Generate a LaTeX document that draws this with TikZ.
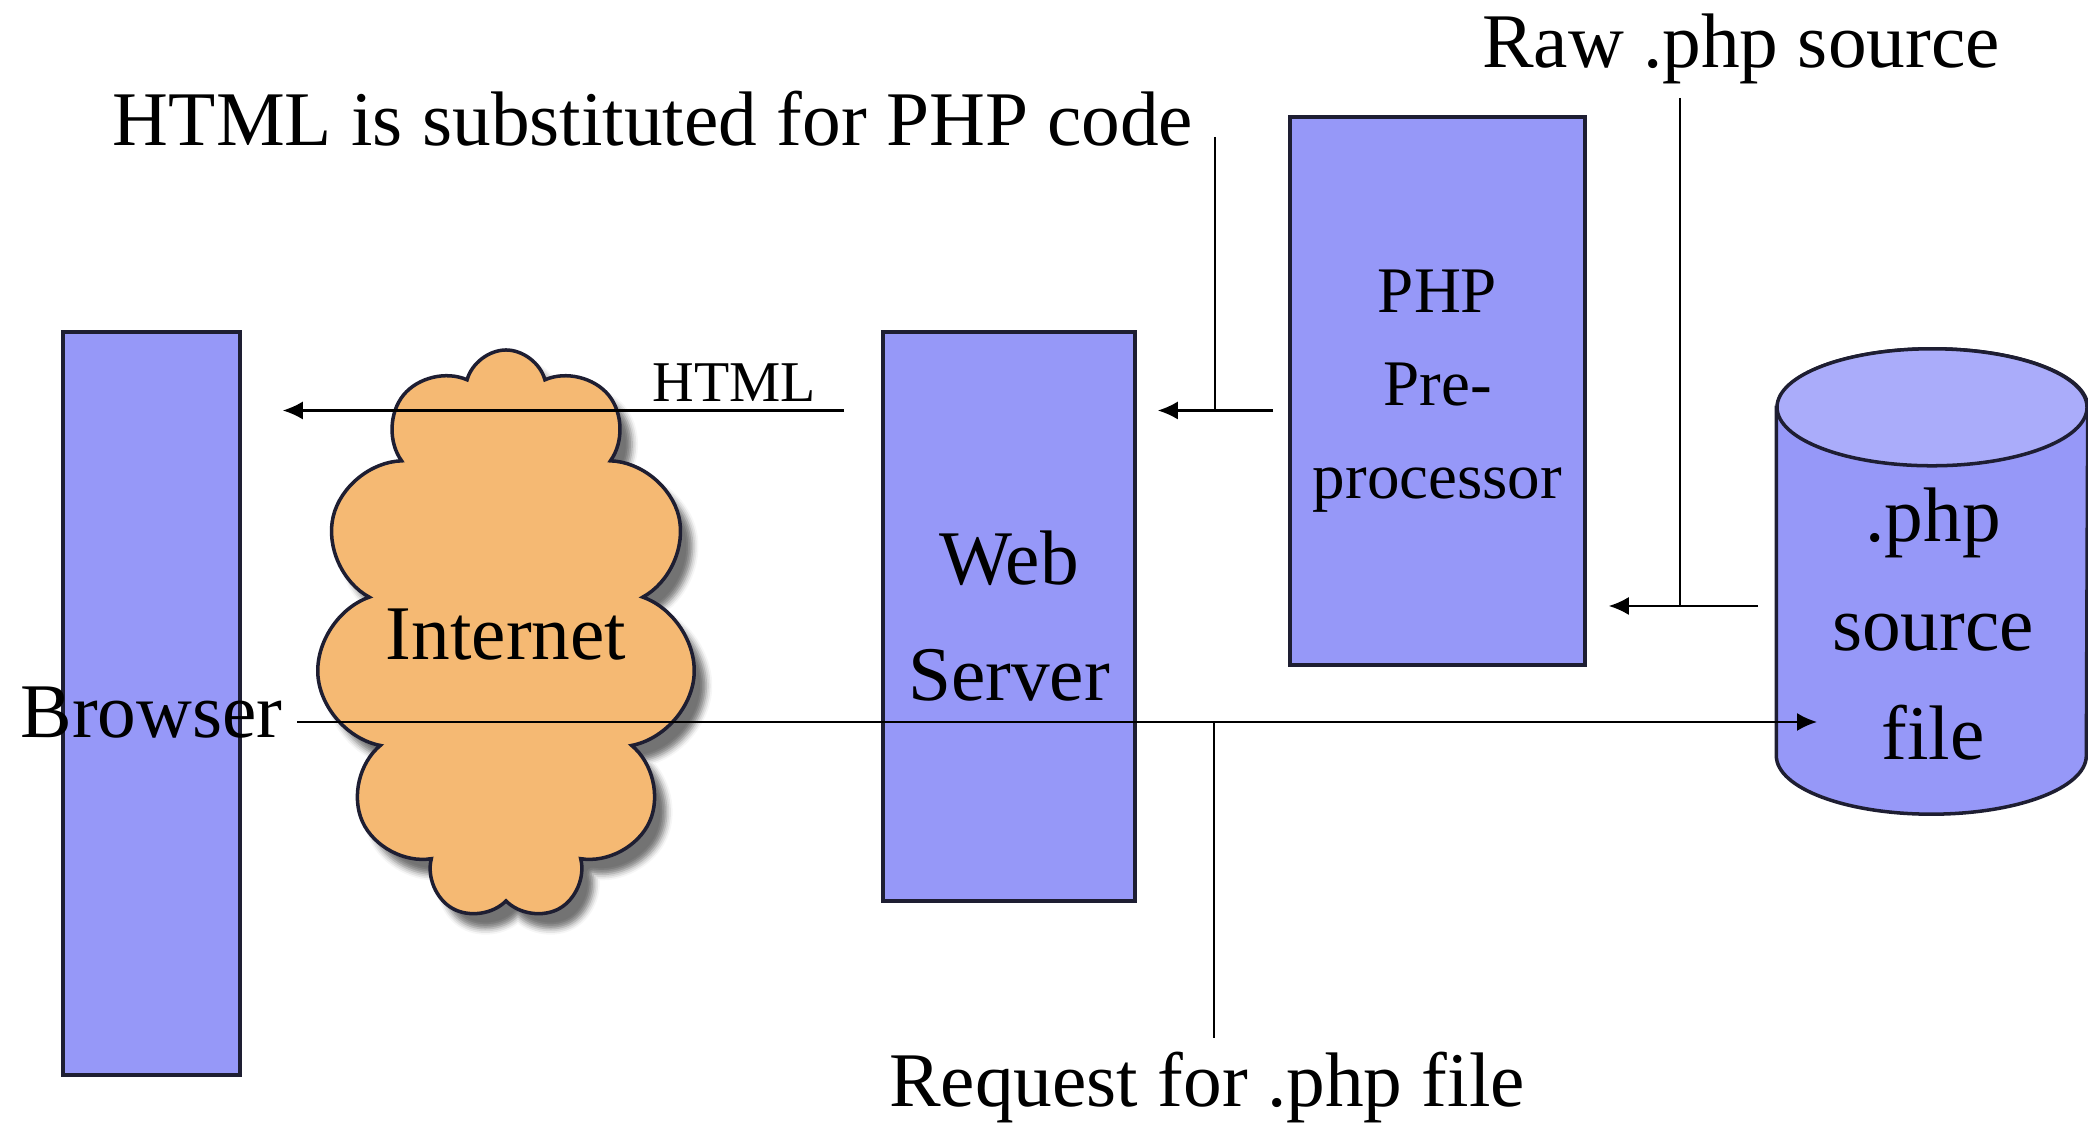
\documentclass[tikz,border=0pt]{standalone}
\usepackage{fontspec}
\setmainfont{Liberation Serif}
\usetikzlibrary{shapes.symbols,shadows.blur,arrows.meta}
\definecolor{boxblue}{RGB}{150,152,248}
\definecolor{topblue}{RGB}{170,172,250}
\definecolor{cloudorange}{RGB}{245,185,115}
\definecolor{edgegray}{RGB}{30,30,50}
\begin{document}
\begin{tikzpicture}[box/.style = {draw=edgegray, line width=1pt, fill=boxblue, align=center},
    big/.style = {font=\fontsize{22}{32}\selectfont, align=center, inner sep=0pt},
    arr/.style = {-{Latex[length=2mm,width=1.8mm]}, line width=0.6pt},
    link/.style = {line width=0.8pt}]
    \useasboundingbox (0,0) rectangle (20.88,11.24);
    % Boxes and the source file
    \node[box, minimum width=1.77cm, minimum height=7.43cm] (browser) at (1.515,4.205) {};
    \node[box, big, minimum width=2.52cm, minimum height=5.69cm] (web) at (10.09,5.075) {Web\\[1pt]Server};
    \node[box, font=\fontsize{18.5}{26.5}\selectfont, minimum width=2.95cm, minimum height=5.48cm] (php) at (14.375,7.33) {PHP\\Pre-\\processor};
    \node[cloud, cloud puffs=11, cloud ignores aspect, draw=edgegray, line width=1pt, fill=cloudorange,
        minimum width=3.8cm, minimum height=5.7cm, big,
        blur shadow={shadow xshift=1.2mm, shadow yshift=-1.5mm, shadow blur radius=0.6mm, shadow opacity=55}] (net) at (5.06,4.89) {Internet};

    \node[minimum width=3.1cm, minimum height=3.47cm, inner sep=0pt] (db) at (19.32,5.425) {};
    \draw[draw=edgegray, line width=1pt, fill=boxblue] (db.north west) -- (db.south west)
        arc[start angle=180, end angle=360, x radius=1.55cm, y radius=0.585cm] -- (db.north east)
        arc[start angle=0, end angle=180, x radius=1.55cm, y radius=0.585cm] -- cycle;
    \draw[draw=edgegray, line width=1pt, fill=topblue] (db.north) ellipse[x radius=1.55cm, y radius=0.585cm];

    % Texts
    \node[big, yshift=-0.9mm] (blabel) at (browser) {Browser};
    \node[big, font=\fontsize{22}{31}\selectfont] (dbtext) at (19.33,5.00) {.php\\source\\file};
    \node[big, anchor=base east] (subst) at (11.94,9.78) {HTML is substituted for PHP code};
    \node[big, anchor=base] (raw) at (17.41,10.56) {Raw .php source};
    \node[big, anchor=base] (req) at (12.07,0.17) {Request for .php file};
    \node[font=\fontsize{16.4}{20}\selectfont, anchor=base, inner sep=0pt] (htmllbl) at (7.345,7.22) {HTML};

    % Connectors
    \coordinate (h1) at (8.44,7.135);
    \draw[arr, shorten >=4.1mm] (h1) -- (h1 -| browser.east);

    \coordinate (s1) at (12.73,7.135);
    \coordinate (s0) at (12.15,9.87);
    \draw[arr, shorten >=2.1mm] (s1) -- (s1 -| web.east);
    \draw[link] (s0) -- (s0 |- s1);

    \coordinate (r1) at (17.58,5.18);
    \coordinate (r0) at (16.80,10.26);
    \draw[arr, shorten >=2.2mm] (r1) -- (r1 -| php.east);
    \draw[link] (r0) -- (r0 |- r1);

    \coordinate (q1) at (2.97,4.02);
    \coordinate (q2) at (18.17,4.02);
    \coordinate (q0) at (12.14,0.86);
    \draw[arr] (q1) -- (q2);
    \draw[link] (q0) -- (q0 |- q1);

\end{tikzpicture}
\end{document}
